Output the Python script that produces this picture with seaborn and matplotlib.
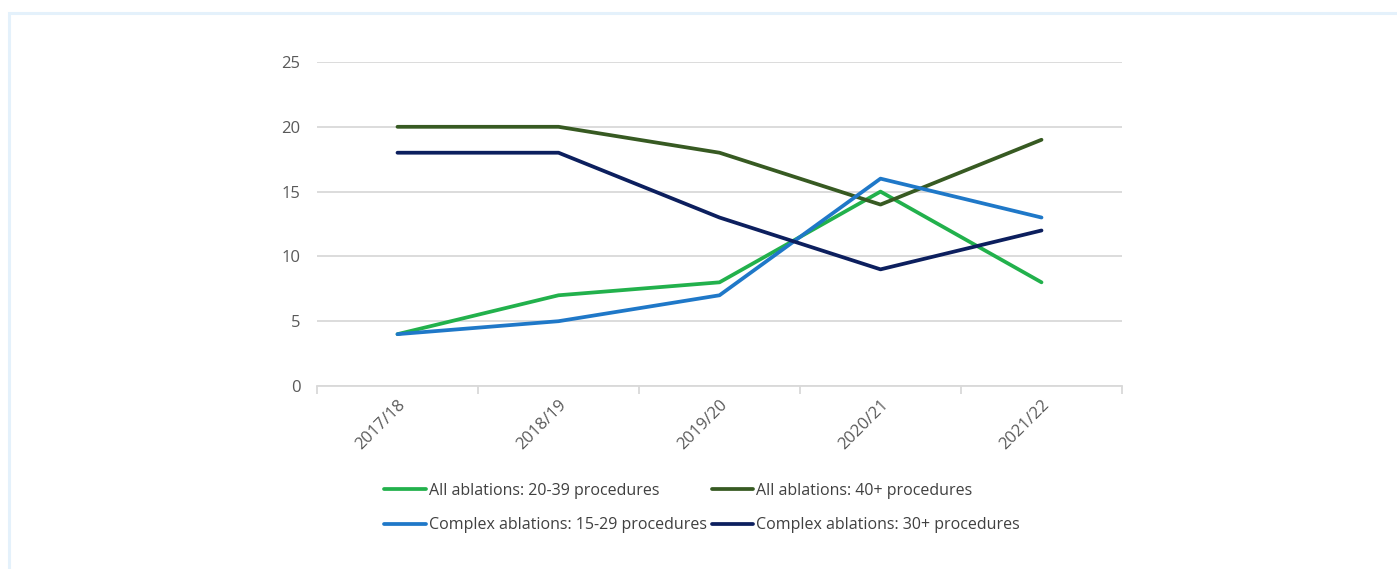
import matplotlib
matplotlib.use("Agg")
import matplotlib.pyplot as plt
from matplotlib.patches import Rectangle
from matplotlib.lines import Line2D
import seaborn as sns
import pandas as pd

years = ["2017/18", "2018/19", "2019/20", "2020/21", "2021/22"]
all_20_39 = [4, 7, 8, 15, 8]
all_40_plus = [20, 20, 18, 14, 19]
complex_15_29 = [4, 5, 7, 16, 13]
complex_30_plus = [18, 18, 13, 9, 12]

series_names = [
    "All ablations: 20-39 procedures",
    "All ablations: 40+ procedures",
    "Complex ablations: 15-29 procedures",
    "Complex ablations: 30+ procedures",
]
series_values = [all_20_39, all_40_plus, complex_15_29, complex_30_plus]
colors = ["#22B14C", "#375A22", "#1F78C8", "#0C1F5E"]

rows = []
for name, vals in zip(series_names, series_values):
    for i, (yr, v) in enumerate(zip(years, vals)):
        rows.append({"pos": i, "year": yr, "value": v, "series": name})
df = pd.DataFrame(rows)

sns.set_theme(style="white")
plt.rcParams["font.family"] = ["Open Sans", "DejaVu Sans"]

fig = plt.figure(figsize=(13.97, 5.69), dpi=100)
ax = fig.add_axes([317 / 1397, 1 - 386 / 569, (1122 - 317) / 1397, (386 - 62) / 569])

# light blue frame around the panel
fig.patches.append(Rectangle((9 / 1397, -0.05), 1.1, 1 - 13 / 569 + 0.05,
                             transform=fig.transFigure, fill=False,
                             edgecolor="#E4F1FB", linewidth=2.2, zorder=0))

sns.lineplot(data=df, x="pos", y="value", hue="series", hue_order=series_names,
             palette=colors, linewidth=2.7, ax=ax, legend=False, sort=False)
for ln in ax.lines:
    ln.set_solid_capstyle("round")
    ln.set_solid_joinstyle("round")

ax.set_xlim(-0.5, 4.5)
ax.set_ylim(0, 25)
ax.set_yticks([0, 5, 10, 15, 20, 25])
ax.yaxis.grid(True, color="#D9D9D9", linewidth=1.3)
ax.set_axisbelow(True)
for s in ["top", "right", "left"]:
    ax.spines[s].set_visible(False)
ax.spines["bottom"].set_color("#D9D9D9")
ax.spines["bottom"].set_linewidth(1.3)

ax.set_xticks(range(len(years)))
ax.set_xticklabels(years, rotation=45, ha="right", rotation_mode="anchor")
ax.tick_params(axis="x", length=0, pad=8, labelsize=12, labelcolor="#595959")
ax.tick_params(axis="y", length=0, pad=12, labelsize=12, labelcolor="#595959")
# category boundary tick marks
ax.set_xticks([x - 0.5 for x in range(len(years) + 1)], minor=True)
ax.tick_params(axis="x", which="minor", bottom=True, length=6, width=1.3,
               color="#D9D9D9", direction="out")
ax.set_xlabel("")
ax.set_ylabel("")

handles = [Line2D([], [], color=c, linewidth=2.7) for c in colors]
order = [0, 2, 1, 3]
leg = fig.legend([handles[i] for i in order], [series_names[i] for i in order],
                 ncol=2, loc="center", bbox_to_anchor=(702 / 1397, 1 - 508 / 569),
                 frameon=False, fontsize=11.5, handlelength=2.6, handletextpad=0.2,
                 columnspacing=0.3, labelspacing=1.15)
for t in leg.get_texts():
    t.set_color("#404040")

fig.savefig("out.png", dpi=100)
